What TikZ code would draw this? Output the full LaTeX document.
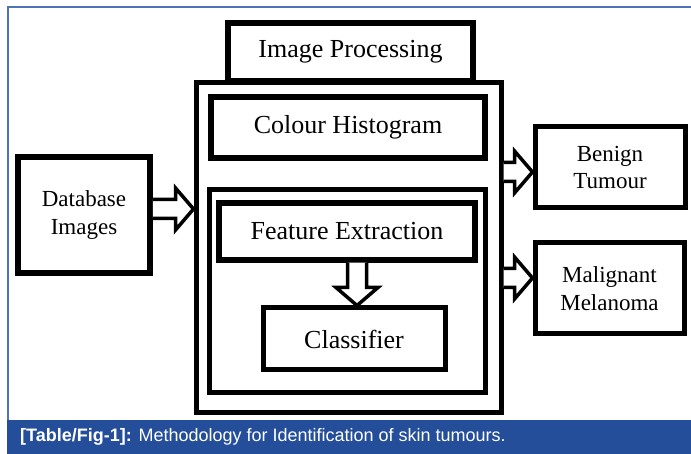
\documentclass[tikz,border=0pt]{standalone}
\usepackage{fontspec}
\setmainfont{Liberation Serif}
\newfontfamily\capfont{Liberation Sans}
\usetikzlibrary{calc}
\definecolor{capblue}{HTML}{244E99}
\definecolor{frameblue}{HTML}{4F72B8}
\tikzset{
  box/.style={draw=black, line width=5.5pt, fill=white, rectangle, inner sep=0pt, align=center},
  bigtext/.style={font=\fontsize{26}{30}\selectfont},
  smalltext/.style={font=\fontsize{23}{28}\selectfont},
  blockarrow/.style={draw=black, fill=white, line width=3.5pt, line join=miter},
}
\newcommand\rightblock[3]{%
  \filldraw[blockarrow] let \p1=(#1), \p2=(#2), \p3=(0,#3) in
  (\x1,\y3+9.5pt) -- (\x2-18pt,\y3+9.5pt) -- (\x2-18pt,\y3+21pt) -- (\x2,\y3)
  -- (\x2-18pt,\y3-21pt) -- (\x2-18pt,\y3-9.5pt) -- (\x1,\y3-9.5pt);}
\newcommand\downblock[3]{%
  \filldraw[blockarrow] let \p1=(#1), \p2=(#2), \p3=(#3,0) in
  (\x3-9.5pt,\y1) -- (\x3-9.5pt,\y2+18pt) -- (\x3-21pt,\y2+18pt) -- (\x3,\y2)
  -- (\x3+21pt,\y2+18pt) -- (\x3+9.5pt,\y2+18pt) -- (\x3+9.5pt,\y1);}
\begin{document}
\begin{tikzpicture}[x=1pt,y=-1pt]
\useasboundingbox (0,0) rectangle (691,454);
\fill[white] (0,0) rectangle (691,454);
% frame and caption
\draw[frameblue, line width=1.5pt] (8,420) -- (8,7) -- (691,7);
\fill[capblue] (7,420) rectangle (691,454);
\node[anchor=west, text=white, inner sep=0pt, font=\capfont\fontsize{18}{20}\selectfont] (cap) at (20,437)
  {\textbf{[Table/Fig-1]:} Methodology for Identification of skin tumours.};
% boxes
\node[box, line width=5pt, minimum width=305pt, minimum height=329pt] (big) at (348.5,247.5) {};
\node[box, bigtext, minimum width=245pt, minimum height=58pt] (ip) at (350.5,52) {Image Processing};
\node[box, bigtext, minimum width=274pt, minimum height=61pt] (ch) at (348,127.5) {Colour Histogram};
\node[box, line width=5pt, minimum width=276pt, minimum height=202pt] (inner) at (347,291) {};
\node[box, bigtext, minimum width=256pt, minimum height=57pt] (fe) at (347,231.5) {Feature Extraction};
\node[box, bigtext, line width=5pt, minimum width=182pt, minimum height=62pt] (cl) at (354,339) {Classifier};
\node[box, smalltext, minimum width=132pt, minimum height=116pt] (db) at (84,215) {Database\\Images};
\node[box, smalltext, line width=5pt, minimum width=150pt, minimum height=81pt] (bt) at (610,167.5) {Benign\\Tumour};
\node[box, smalltext, line width=5pt, minimum width=149pt, minimum height=91pt] (mm) at (609.5,288.5) {Malignant\\Melanoma};
% block arrows
\rightblock{db.east}{big.west}{209}
\rightblock{big.east}{bt.west}{172}
\rightblock{big.east}{mm.west}{278}
\downblock{fe.south}{cl.north}{357}
\end{tikzpicture}
\end{document}
